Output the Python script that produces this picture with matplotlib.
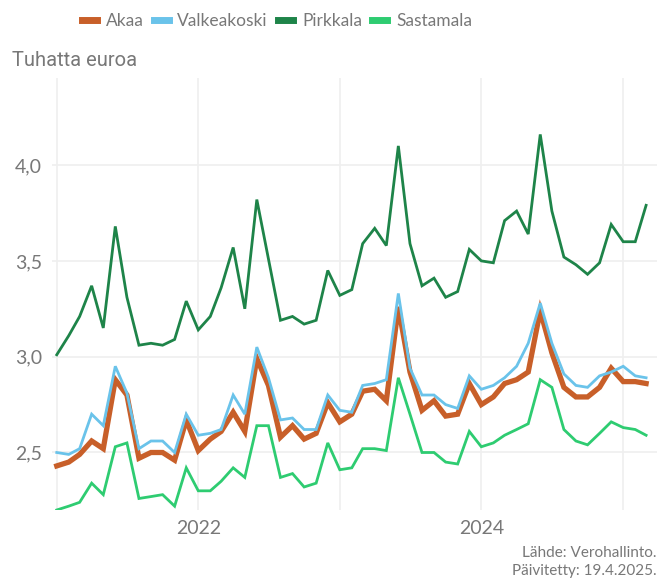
import pandas as pd
import matplotlib
matplotlib.use("Agg")
import matplotlib.pyplot as plt
from matplotlib.lines import Line2D

# Kuukausittaiset arvot, tuhatta euroa (2021-01 ... 2025-03)
months = pd.date_range("2021-01-01", "2025-03-01", freq="MS")

akaa = [2.43, 2.45, 2.49, 2.56, 2.52, 2.88, 2.80, 2.47, 2.50, 2.50, 2.46, 2.67,
        2.51, 2.57, 2.61, 2.71, 2.61, 2.99, 2.85, 2.58, 2.64, 2.57, 2.60, 2.76,
        2.66, 2.70, 2.82, 2.83, 2.77, 3.26, 2.92, 2.72, 2.77, 2.69, 2.70, 2.86,
        2.75, 2.79, 2.86, 2.88, 2.92, 3.24, 3.02, 2.84, 2.79, 2.79, 2.84, 2.94,
        2.87, 2.87, 2.86]
valkeakoski = [2.50, 2.49, 2.52, 2.70, 2.64, 2.95, 2.81, 2.52, 2.56, 2.56, 2.50, 2.70,
               2.59, 2.60, 2.62, 2.80, 2.70, 3.05, 2.89, 2.67, 2.68, 2.62, 2.62, 2.80,
               2.72, 2.71, 2.85, 2.86, 2.88, 3.33, 2.94, 2.80, 2.80, 2.75, 2.73, 2.90,
               2.83, 2.85, 2.89, 2.95, 3.07, 3.28, 3.07, 2.91, 2.85, 2.84, 2.90, 2.92,
               2.95, 2.90, 2.89]
pirkkala = [3.01, 3.11, 3.21, 3.37, 3.15, 3.68, 3.31, 3.06, 3.07, 3.06, 3.09, 3.29,
            3.14, 3.21, 3.36, 3.57, 3.25, 3.82, 3.51, 3.19, 3.21, 3.17, 3.19, 3.45,
            3.32, 3.35, 3.59, 3.67, 3.58, 4.10, 3.59, 3.37, 3.41, 3.31, 3.34, 3.56,
            3.50, 3.49, 3.71, 3.76, 3.64, 4.16, 3.76, 3.52, 3.48, 3.43, 3.49, 3.69,
            3.60, 3.60, 3.79]
sastamala = [2.20, 2.22, 2.24, 2.34, 2.28, 2.53, 2.55, 2.26, 2.27, 2.28, 2.22, 2.42,
             2.30, 2.30, 2.35, 2.42, 2.37, 2.64, 2.64, 2.37, 2.39, 2.32, 2.34, 2.55,
             2.41, 2.42, 2.52, 2.52, 2.51, 2.89, 2.70, 2.50, 2.50, 2.45, 2.44, 2.61,
             2.53, 2.55, 2.59, 2.62, 2.65, 2.88, 2.84, 2.62, 2.56, 2.54, 2.60, 2.66,
             2.63, 2.62, 2.59]

series = [("Akaa", akaa, "#c85f29", 3.8),
          ("Valkeakoski", valkeakoski, "#6ac3ea", 2.0),
          ("Pirkkala", pirkkala, "#1e8449", 2.0),
          ("Sastamala", sastamala, "#2ecc71", 2.0)]

year_ticks = pd.date_range("2021-01-01", "2025-01-01", freq="YS")
year_labels = ["", "2022", "", "2024", ""]
y_ticks = [2.5, 3.0, 3.5, 4.0]

GRAY = "#787878"
FONT = ["Lato", "DejaVu Sans"]

fig = plt.figure(figsize=(6.69, 5.79), dpi=100)
ax = fig.add_axes([0.0773, 0.1192, 0.9047, 0.7466])

for name, vals, color, lw in series:
    ax.plot(months, vals, color=color, linewidth=lw, label=name,
            solid_joinstyle="miter", zorder=3)

ax.set_xlim(pd.Timestamp("2020-12-19"), pd.Timestamp("2025-03-29"))
ax.set_ylim(2.2, 4.456)

ax.set_xticks(year_ticks)
ax.set_xticklabels(year_labels)
ax.set_yticks(y_ticks)
ax.set_yticklabels([f"{v:.1f}".replace(".", ",") for v in y_ticks])
ax.tick_params(length=0, colors=GRAY, labelsize=14, pad=7)
for lab in ax.get_xticklabels() + ax.get_yticklabels():
    lab.set_family(FONT)
ax.grid(True, color="#efefef", linewidth=1.2, zorder=0)
for s in ax.spines.values():
    s.set_visible(False)

handles = [Line2D([0], [0], color=c, linewidth=5) for _, _, c, _ in series]
leg = fig.legend(handles, [n for n, *_ in series], loc="center",
                 bbox_to_anchor=(0.414, 0.963), ncol=4, frameon=False,
                 handlelength=0.86, handletextpad=0.5, columnspacing=0.6,
                 prop={"family": FONT, "size": 12.5})
for t in leg.get_texts():
    t.set_color(GRAY)

fig.text(12 / 669, 1 - 60 / 579, "Tuhatta euroa", ha="left", va="center",
         fontsize=14.5, color=GRAY,
         family=["Liberation Sans Narrow", "Roboto", "DejaVu Sans"])

fig.text(657 / 669, 1 - 553 / 579, "Lähde: Verohallinto.", ha="right",
         va="center", fontsize=11, color=GRAY, family=FONT)
fig.text(657 / 669, 1 - 571 / 579, "Päivitetty: 19.4.2025.", ha="right",
         va="center", fontsize=11, color=GRAY, family=FONT)

fig.savefig("out.png", dpi=100)
